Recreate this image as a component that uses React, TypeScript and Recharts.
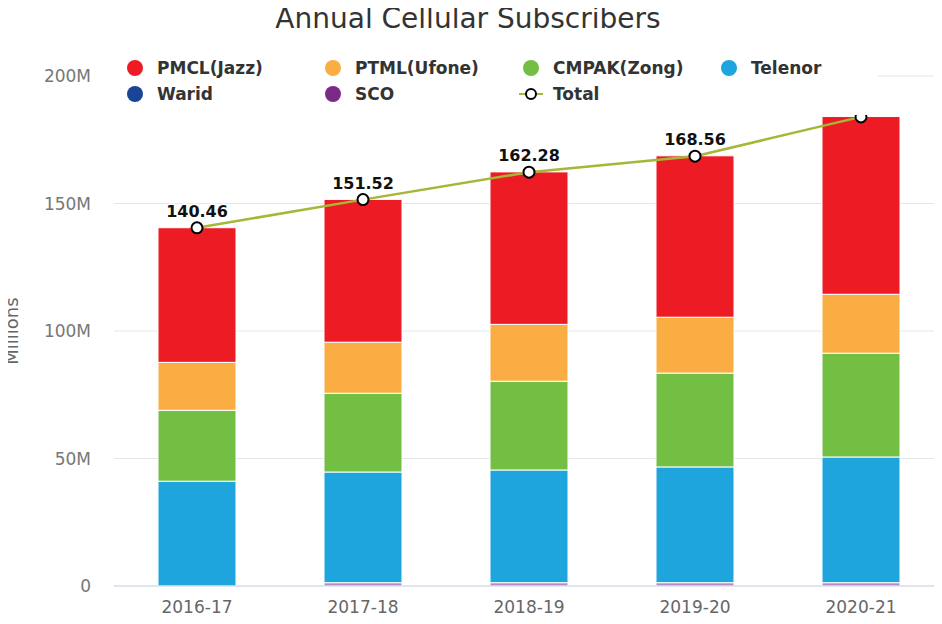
import React from "react";
import {
    ComposedChart,
    Bar,
    Line,
    XAxis,
    YAxis,
    CartesianGrid,
    LabelList,
} from "recharts";

const years = ["2016-17", "2017-18", "2018-19", "2019-20", "2020-21"];
const jazz = [52.8, 56.0, 59.8, 63.3, 69.7];
const ufone = [18.8, 20.0, 22.3, 21.9, 23.1];
const zong = [27.8, 30.9, 34.8, 36.8, 40.7];
const telenor = [41.1, 43.4, 44.2, 45.4, 49.3];
const warid = [0, 0, 0, 0, 0];
const sco = [0, 1.3, 1.3, 1.3, 1.3];
const totals = [140.46, 151.52, 162.28, 168.56, 183.96];
const yTicks = [0, 50, 100, 150, 200];

const series = [
    { key: "jazz", name: "PMCL(Jazz)", color: "#ed1c24", opacity: 1 },
    { key: "ufone", name: "PTML(Ufone)", color: "#f9ad43", opacity: 1 },
    { key: "zong", name: "CMPAK(Zong)", color: "#72bf44", opacity: 1 },
    { key: "telenor", name: "Telenor", color: "#1fa5de", opacity: 1 },
    { key: "warid", name: "Warid", color: "#1a4596", opacity: 1 },
    { key: "sco", name: "SCO", color: "#7b2b86", opacity: 0.55 },
];
const lineColor = "#a5b735";

const data = years.map((year, i) => ({
    year,
    jazz: jazz[i],
    ufone: ufone[i],
    zong: zong[i],
    telenor: telenor[i],
    warid: warid[i],
    sco: sco[i],
    total: totals[i],
}));

const FONT = "'DejaVu Sans', Verdana, sans-serif";

// last label is hidden in the original (it collides with the legend)
const TotalLabel = (props: any) => {
    const { x, y, value, index } = props;
    if (index === years.length - 1) return null;
    return (
        <text
            x={x}
            y={y - 11}
            textAnchor="middle"
            fontFamily={FONT}
            fontSize={16}
            fontWeight="bold"
            fill="#111"
            stroke="#fff"
            strokeWidth={3}
            paintOrder="stroke"
        >
            {Number(value).toFixed(2)}
        </text>
    );
};

const Overlay = () => {
    const rows = [series.slice(0, 4), [...series.slice(4), null]];
    return (
        <svg
            width={942}
            height={624}
            style={{ position: "absolute", left: 0, top: 0, pointerEvents: "none" }}
        >
            <text
                x={468}
                y={28}
                textAnchor="middle"
                fontFamily={FONT}
                fontSize={28}
                fill="#333"
            >
                Annual Cellular Subscribers
            </text>
            {/* legend box floats over the plot and hides the top of the last marker */}
            <rect x={114} y={52} width={764} height={63} fill="#fff" />
            {rows.map((row, r) =>
                row.map((s, c) => {
                    const cx = 135 + c * 198;
                    const cy = 68 + r * 26;
                    return (
                        <g key={`${r}-${c}`}>
                            {s ? (
                                <circle cx={cx} cy={cy} r={8} fill={s.color} />
                            ) : (
                                <>
                                    <line
                                        x1={cx - 12}
                                        x2={cx + 12}
                                        y1={cy}
                                        y2={cy}
                                        stroke={lineColor}
                                        strokeWidth={2}
                                    />
                                    <circle
                                        cx={cx}
                                        cy={cy}
                                        r={5}
                                        fill="#fff"
                                        stroke="#000"
                                        strokeWidth={2}
                                    />
                                </>
                            )}
                            <text
                                x={cx + 22}
                                y={cy + 6}
                                fontFamily={FONT}
                                fontSize={17}
                                fontWeight="bold"
                                fill="#333"
                            >
                                {s ? s.name : "Total"}
                            </text>
                        </g>
                    );
                })
            )}
        </svg>
    );
};

const App: React.FC = () => {
    // first series sits on top of the stack, so draw them bottom-up
    const stackOrder = [...series].reverse();
    return (
        <div
            style={{
                position: "relative",
                width: 942,
                height: 624,
                margin: -8,
                overflow: "hidden",
                background: "#fff",
            }}
        >
            <ComposedChart
                width={944}
                height={624}
                data={data}
                margin={{ top: 76, right: 0, bottom: 8, left: 0 }}
                barCategoryGap={0}
            >
                <CartesianGrid vertical={false} stroke="#e6e6e6" />
                <XAxis
                    dataKey="year"
                    axisLine={{ stroke: "#ccd6eb" }}
                    tickLine={false}
                    tickMargin={9}
                    tick={{ fill: "#666", fontSize: 17, fontFamily: FONT }}
                />
                <YAxis
                    width={114}
                    domain={[0, 200]}
                    ticks={yTicks}
                    axisLine={false}
                    tickLine={false}
                    tickMargin={17}
                    tickFormatter={(v: number) => (v === 0 ? "0" : `${v}M`)}
                    tick={{ fill: "#777", fontSize: 17, fontFamily: FONT }}
                    label={{
                        value: "Millions",
                        angle: -90,
                        position: "insideLeft",
                        offset: 12,
                        style: {
                            fill: "#666",
                            fontSize: 18,
                            fontFamily: FONT,
                            textAnchor: "middle",
                        },
                    }}
                />
                {stackOrder.map((s) => (
                    <Bar
                        key={s.key}
                        dataKey={s.key}
                        name={s.name}
                        stackId="a"
                        fill={s.color}
                        fillOpacity={s.opacity}
                        stroke="#fff"
                        strokeWidth={1}
                        barSize={78}
                        isAnimationActive={false}
                    />
                ))}
                <Line
                    type="linear"
                    dataKey="total"
                    name="Total"
                    stroke={lineColor}
                    strokeWidth={2.5}
                    dot={{ r: 5.5, fill: "#fff", stroke: "#000", strokeWidth: 2 }}
                    activeDot={false}
                    isAnimationActive={false}
                >
                    <LabelList dataKey="total" content={TotalLabel} />
                </Line>
            </ComposedChart>
            <Overlay />
        </div>
    );
};

export default App;
